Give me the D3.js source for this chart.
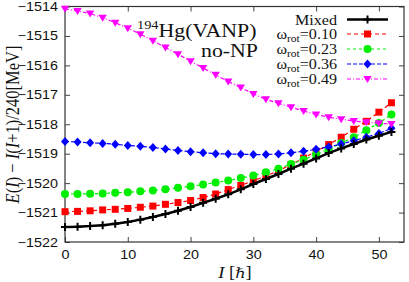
<!DOCTYPE html>
<html>
<head>
<meta charset="utf-8">
<script src="https://cdn.jsdelivr.net/npm/d3@7"></script>
<style>
body { margin: 0; background: #fff; }
svg { display: block; }
</style>
</head>
<body>
<svg id="chart" width="409" height="282"></svg>
<script>
// angular momentum I [hbar]
const spin = [0, 2, 4, 6, 8, 10, 12, 14, 16, 18, 20, 22, 24, 26, 28, 30, 32, 34, 36, 38, 40, 42, 44, 46, 48, 50, 52];

const mixed = [-1521.49, -1521.48, -1521.46, -1521.43, -1521.38, -1521.32, -1521.24, -1521.15, -1521.05, -1520.94,
    -1520.81, -1520.67, -1520.53, -1520.38, -1520.21, -1520.03, -1519.86, -1519.69, -1519.51, -1519.34,
    -1519.16, -1518.98, -1518.82, -1518.67, -1518.52, -1518.39, -1518.26];
const omega010 = [-1520.97, -1520.96, -1520.94, -1520.91, -1520.89, -1520.86, -1520.82, -1520.78, -1520.72, -1520.66,
    -1520.59, -1520.49, -1520.37, -1520.22, -1520.08, -1519.92, -1519.76, -1519.58, -1519.37, -1519.15,
    -1518.92, -1518.69, -1518.44, -1518.17, -1517.90, -1517.59, -1517.27];
const omega023 = [-1520.37, -1520.37, -1520.36, -1520.35, -1520.33, -1520.31, -1520.28, -1520.25, -1520.21, -1520.16,
    -1520.11, -1520.05, -1519.98, -1519.91, -1519.83, -1519.74, -1519.63, -1519.51, -1519.35, -1519.21,
    -1519.03, -1518.85, -1518.64, -1518.44, -1518.20, -1517.96, -1517.67];
const omega036 = [-1518.59, -1518.60, -1518.63, -1518.65, -1518.68, -1518.72, -1518.75, -1518.79, -1518.84, -1518.89,
    -1518.93, -1518.97, -1519.00, -1519.01, -1519.02, -1519.03, -1519.03, -1519.01, -1518.97, -1518.92,
    -1518.85, -1518.77, -1518.67, -1518.56, -1518.44, -1518.31, -1518.14];
const omega049 = [-1514.08, -1514.15, -1514.24, -1514.38, -1514.55, -1514.74, -1514.94, -1515.16, -1515.39, -1515.62,
    -1515.86, -1516.09, -1516.32, -1516.55, -1516.75, -1516.97, -1517.15, -1517.29, -1517.42, -1517.55,
    -1517.67, -1517.76, -1517.83, -1517.89, -1517.93, -1517.97, -1517.99];

const xTicks = [0, 10, 20, 30, 40, 50];
const yTicks = [-1522, -1521, -1520, -1519, -1518, -1517, -1516, -1515, -1514];

const series = [
    { omega: "0.10", values: omega010, color: "#ff0000", dash: "4,3", shape: "square" },
    { omega: "0.23", values: omega023, color: "#00ee00", dash: "3,3", shape: "circle" },
    { omega: "0.36", values: omega036, color: "#0000ff", dash: "4,2", shape: "diamond" },
    { omega: "0.49", values: omega049, color: "#ff00ff", dash: "4,2,1,2", shape: "triangle" },
];

const svg = d3.select("#chart");
const margin = { top: 6.5, right: 5, bottom: 40, left: 65 };
const width = +svg.attr("width");
const height = +svg.attr("height");
const stretch = 1.15; // the reference is slightly wider than tall

const x = d3.scaleLinear().domain([0, 54]).range([margin.left, width - margin.right]);
const y = d3.scaleLinear().domain([-1522, -1514]).range([height - margin.bottom, margin.top]);

const tickFont = "Liberation Sans, Arial, sans-serif";
const serif = "Liberation Serif, Times New Roman, serif";

function stretchText(sel) {
    sel.each(function () {
        const tx = +this.getAttribute("x") || 0;
        d3.select(this).attr("x", 0).attr("transform", `translate(${tx},0) scale(${stretch},1)`);
    });
}

const xAxis = svg.append("g")
    .attr("transform", `translate(0,${y.range()[0]})`)
    .call(d3.axisBottom(x).tickValues(xTicks).tickSizeInner(-5).tickSizeOuter(0).tickPadding(8));
const yAxis = svg.append("g")
    .attr("transform", `translate(${x.range()[0]},0)`)
    .call(d3.axisLeft(y).tickValues(yTicks).tickSizeInner(-5).tickSizeOuter(0).tickPadding(7).tickFormat(d3.format("d")));
const topAxis = svg.append("g")
    .attr("transform", `translate(0,${y.range()[1]})`)
    .call(d3.axisTop(x).tickValues(xTicks).tickSizeInner(-5).tickSizeOuter(0).tickFormat(""));
const rightAxis = svg.append("g")
    .attr("transform", `translate(${x.range()[1]},0)`)
    .call(d3.axisRight(y).tickValues(yTicks).tickSizeInner(-5).tickSizeOuter(0).tickFormat(""));

for (const ax of [xAxis, yAxis, topAxis, rightAxis]) {
    ax.select(".domain").remove();
    ax.selectAll("line").attr("stroke", "#444");
    ax.selectAll("text").attr("font-family", tickFont).attr("font-size", 12.5).attr("fill", "#111");
}
xAxis.selectAll("text").attr("dy", "0.71em");
stretchText(xAxis.selectAll("text"));
stretchText(yAxis.selectAll("text"));

svg.append("rect")
    .attr("x", x.range()[0]).attr("y", y.range()[1])
    .attr("width", x.range()[1] - x.range()[0])
    .attr("height", y.range()[0] - y.range()[1])
    .attr("fill", "none").attr("stroke", "#333").attr("stroke-width", 1.2);

const shapes = {
    square: "M-3.5,-3.5H3.5V3.5H-3.5Z",
    diamond: "M0,-4.5L4,0L0,4.5L-4,0Z",
    triangle: "M-4.2,-3L4.2,-3L0,4Z",
    plus: "M-4,0H4M0,-4V4",
};

function marker(g, s, cx, cy) {
    if (s.shape === "circle") {
        g.append("circle").attr("cx", cx).attr("cy", cy).attr("r", 4).attr("fill", s.color);
    } else {
        g.append("path").attr("d", shapes[s.shape])
            .attr("transform", `translate(${cx},${cy})`).attr("fill", s.color);
    }
}

const line = d3.line().x((d, i) => x(spin[i])).y(d => y(d));
const plot = svg.append("g");

for (const s of series) {
    plot.append("path").datum(s.values)
        .attr("d", line)
        .attr("fill", "none")
        .attr("stroke", s.color)
        .attr("stroke-width", 1.2)
        .attr("stroke-dasharray", s.dash);
    const g = plot.append("g");
    s.values.forEach((v, i) => marker(g, s, x(spin[i]), y(v)));
}

plot.append("path").datum(mixed)
    .attr("d", line)
    .attr("fill", "none")
    .attr("stroke", "#000")
    .attr("stroke-width", 2.5);
plot.selectAll(".mixed-pt").data(mixed).enter().append("path")
    .attr("class", "mixed-pt")
    .attr("d", shapes.plus)
    .attr("transform", (d, i) => `translate(${x(spin[i])},${y(d)})`)
    .attr("stroke", "#000").attr("stroke-width", 2);

// legend
const legend = svg.append("g").attr("font-family", serif).attr("font-size", 14).attr("fill", "#111");
const rowY = [19.5, 34, 49, 64, 79];
const textX = 337, lineX0 = 347, lineX1 = 388;

legend.append("text")
    .attr("transform", `translate(${textX},${rowY[0] + 5}) scale(${stretch},1)`)
    .attr("text-anchor", "end").text("Mixed");
legend.append("line")
    .attr("x1", lineX0).attr("x2", lineX1).attr("y1", rowY[0]).attr("y2", rowY[0])
    .attr("stroke", "#000").attr("stroke-width", 2.5);
legend.append("path").attr("d", shapes.plus)
    .attr("transform", `translate(${(lineX0 + lineX1) / 2},${rowY[0]})`)
    .attr("stroke", "#000").attr("stroke-width", 2);

series.forEach((s, k) => {
    const ry = rowY[k + 1];
    const t = legend.append("text")
        .attr("transform", `translate(${textX},${ry + 5}) scale(${stretch},1)`)
        .attr("text-anchor", "end");
    t.append("tspan").text("ω");
    t.append("tspan").attr("font-size", 10).attr("dy", 3).text("rot");
    t.append("tspan").attr("dy", -3).text("=" + s.omega);
    legend.append("line")
        .attr("x1", lineX0).attr("x2", lineX1).attr("y1", ry).attr("y2", ry)
        .attr("stroke", s.color).attr("stroke-width", 1.2).attr("stroke-dasharray", s.dash);
    marker(legend.append("g"), s, (lineX0 + lineX1) / 2, ry);
});

// annotation
const note = svg.append("g").attr("font-family", serif).attr("fill", "#111");
const nt = note.append("text").attr("transform", `translate(137,37) scale(${stretch},1)`);
nt.append("tspan").attr("font-size", 12.5).attr("dy", -8).text("194");
nt.append("tspan").attr("font-size", 19).attr("dy", 8).text("Hg(VANP)");
note.append("text")
    .attr("transform", `translate(258,57) scale(${stretch},1)`)
    .attr("text-anchor", "end").attr("font-size", 19).text("no-NP");

// axis titles
const xt = svg.append("text")
    .attr("transform", `translate(235,278) scale(${stretch},1)`)
    .attr("text-anchor", "middle").attr("font-family", serif).attr("font-size", 16).attr("fill", "#111");
xt.append("tspan").attr("font-style", "italic").text("I");
xt.append("tspan").text(" [");
xt.append("tspan").attr("font-family", "DejaVu Serif, serif").attr("font-size", 14).text("ℏ");
xt.append("tspan").text("]");

const yt = svg.append("text")
    .attr("transform", `translate(19,124.5) rotate(-90) scale(1,${stretch})`)
    .attr("text-anchor", "middle").attr("font-family", serif).attr("font-size", 16.5).attr("fill", "#111");
yt.append("tspan").attr("font-style", "italic").text("E");
yt.append("tspan").text("(");
yt.append("tspan").attr("font-style", "italic").text("I");
yt.append("tspan").text(") − ");
yt.append("tspan").attr("font-style", "italic").text("I");
yt.append("tspan").text("(");
yt.append("tspan").attr("font-style", "italic").text("I");
yt.append("tspan").text("+1)/240[MeV]");
</script>
</body>
</html>
